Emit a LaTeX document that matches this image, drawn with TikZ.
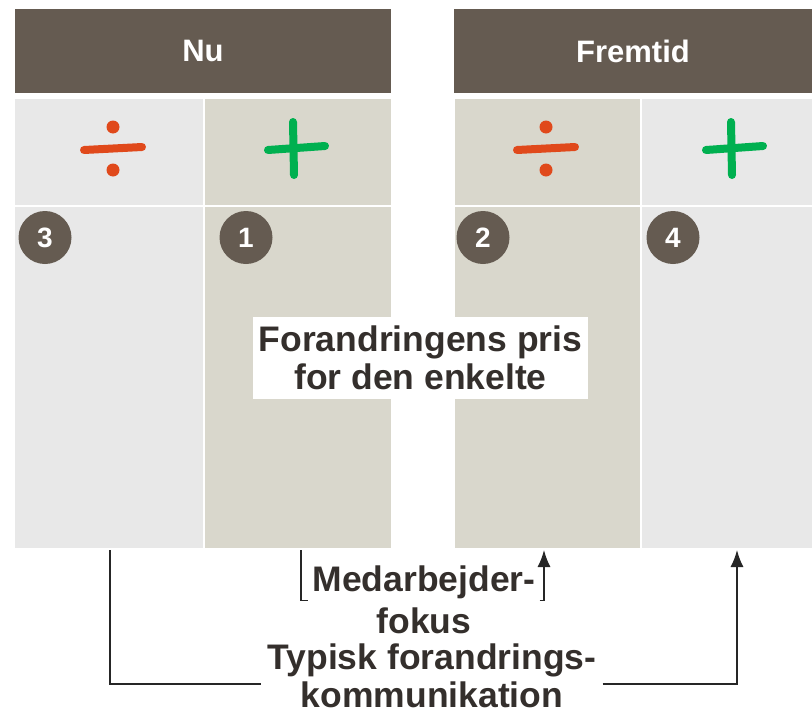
\documentclass[tikz,border=0pt]{standalone}
\usepackage{fontspec}
\setmainfont{Liberation Sans}
\usepackage{tikz}
\usetikzlibrary{arrows.meta,positioning,calc}
\definecolor{headbrown}{HTML}{655B51}
\definecolor{cellgray}{HTML}{E8E8E8}
\definecolor{cellbeige}{HTML}{D9D7CC}
\definecolor{minusred}{HTML}{E0491B}
\definecolor{plusgreen}{HTML}{00B050}
\definecolor{textdark}{HTML}{342F2C}

\begin{document}
\begin{tikzpicture}[x=1pt,y=-1pt]
	\useasboundingbox (0,0) rectangle (812,715);
	\begin{scope}[every node/.style={rectangle,inner sep=0pt,outer sep=0pt}]
		\node[fill=headbrown,minimum width=376pt,minimum height=84pt,text=white,font=\bfseries\fontsize{31}{31}\selectfont] (nu) at (203,51) {Nu};
		\node[fill=headbrown,minimum width=358pt,minimum height=84pt,text=white,font=\bfseries\fontsize{31}{31}\selectfont] (fremtid) at (633,51) {Fremtid};
		% sign row
		\node[fill=cellgray,minimum width=188pt,minimum height=106pt] (a1) at (109,152) {};
		\node[fill=cellbeige,minimum width=186pt,minimum height=106pt] (a2) at (298,152) {};
		\node[fill=cellbeige,minimum width=185pt,minimum height=106pt] (a3) at (547.5,152) {};
		\node[fill=cellgray,minimum width=170pt,minimum height=106pt] (a4) at (727,152) {};
		% main row
		\node[fill=cellgray,minimum width=188pt,minimum height=341pt] (b1) at (109,377.5) {};
		\node[fill=cellbeige,minimum width=186pt,minimum height=341pt] (b2) at (298,377.5) {};
		\node[fill=cellbeige,minimum width=185pt,minimum height=341pt] (b3) at (547.5,377.5) {};
		\node[fill=cellgray,minimum width=170pt,minimum height=341pt] (b4) at (727,377.5) {};
	\end{scope}

	\begin{scope}[every node/.style={circle,fill=headbrown,text=white,minimum size=53pt,inner sep=0pt,font=\bfseries\fontsize{28}{28}\selectfont}]
		\node (n3) at (45,237.5) {3};
		\node (n1) at (246,237.5) {1};
		\node (n2) at (483,237.5) {2};
		\node (n4) at (673,237.5) {4};
	\end{scope}

	% signs
	\foreach \cx in {113,546}{
		\draw[minusred,line width=8pt,line cap=round] (\cx-29,150) -- (\cx+29,147);
		\fill[minusred] (\cx,127) circle (6.5pt) (\cx,170) circle (6.5pt);
	}
	\foreach \cx in {296,734}{
		\draw[plusgreen,line width=8pt,line cap=round] (\cx-28,150) -- (\cx+29,146);
		\draw[plusgreen,line width=8pt,line cap=round] (\cx-3,122) -- (\cx-2,175);
	}

	\begin{scope}[every node/.style={text=textdark,inner sep=2pt,font=\bfseries\fontsize{35.5}{38}\selectfont}]
		\node[fill=white,align=center,minimum width=335pt,minimum height=82pt] (pris) at (420.5,358) {Forandringens pris\\for den enkelte};
		\node (med1) at (424,582) {Medarbejder-};
		\node (med2) at (424,621) {fokus};
		\node (typ1) at (432,660) {Typisk forandrings-};
		\node (typ2) at (432,695) {kommunikation};
	\end{scope}

	\begin{scope}[line width=1.4pt,draw=black!85]
	\draw[shorten <=2pt] ([xshift=3pt]b2.south) |- ([xshift=-2pt]med1.south west);
	\draw[-{Latex[length=17pt,width=13pt]},shorten >=2pt] ([xshift=2pt]med1.south east) -| ([xshift=-3.5pt]b3.south);
	\draw[shorten <=2pt] ([xshift=1pt]b1.south) |- ([xshift=-4pt,yshift=-5pt]typ1.south west);
	\draw[-{Latex[length=17pt,width=13pt]},shorten >=2pt] ([xshift=4pt,yshift=-5pt]typ1.south east) -| ([xshift=10pt]b4.south);
	\end{scope}
\end{tikzpicture}
\end{document}
